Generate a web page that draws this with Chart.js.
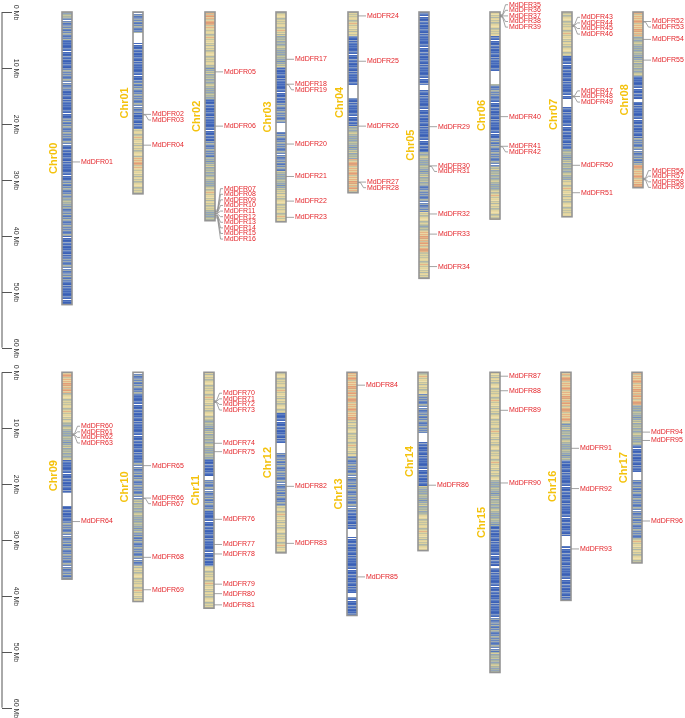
<!DOCTYPE html>
<html>
<head>
<meta charset="utf-8">
<script src="https://cdn.jsdelivr.net/npm/chart.js@4.4.1/dist/chart.umd.min.js"></script>
<style>
    html, body { margin: 0; padding: 0; background: #fff; }
    #wrap { position: relative; width: 685px; height: 718px; }
    canvas { position: absolute; left: 0; display: block; }
    #topChart { top: 0; }
    #bottomChart { top: 360px; }
</style>
</head>
<body>
<div id="wrap">
    <canvas id="topChart" width="685" height="360"></canvas>
    <canvas id="bottomChart" width="685" height="358"></canvas>
</div>
<script>
// Axis ticks (Mb)
const yTicks = [0, 10, 20, 30, 40, 50, 60];

// Chromosomes, lengths in Mb
const topChrs = ['Chr00', 'Chr01', 'Chr02', 'Chr03', 'Chr04', 'Chr05', 'Chr06', 'Chr07', 'Chr08'];
const topLengths = [52.3, 32.5, 37.3, 37.5, 32.3, 47.6, 37.0, 36.6, 31.4];
const bottomChrs = ['Chr09', 'Chr10', 'Chr11', 'Chr12', 'Chr13', 'Chr14', 'Chr15', 'Chr16', 'Chr17'];
const bottomLengths = [37.0, 41.0, 42.2, 32.3, 43.5, 31.9, 53.7, 40.8, 34.1];

// Gene density bands: [end Mb, level] (0 gap, 1 dense blue ... 5 orange)
const topBands = [
    [[1.2, 3], [5, 2], [10, 1], [14, 2], [19, 1], [24, 2], [30, 1], [33, 2], [35, 3], [40, 2], [44, 1], [48, 2], [52.3, 1]],
    [[3.7, 2], [5.5, 0], [12.5, 1], [18, 2], [21, 1], [26, 4], [28, 5], [32.5, 4]],
    [[3, 5], [9.8, 4], [15.7, 3], [23, 1], [26, 2], [31.4, 3], [35, 4], [37.3, 3]],
    [[4, 4], [10, 3], [16, 1], [20, 2], [21.5, 0], [28.5, 2], [32, 3], [37.5, 4]],
    [[4.3, 4], [13.2, 1], [15.3, 0], [20.3, 1], [26.3, 3], [32.3, 5]],
    [[13, 1], [14, 0], [25, 1], [31, 3], [35.7, 2], [38, 4], [39, 3], [43, 5], [47.6, 4]],
    [[4.3, 4], [10.8, 1], [12.9, 0], [15.6, 2], [22.7, 1], [27.5, 2], [32, 3], [37, 4]],
    [[7.8, 4], [15.5, 1], [17, 0], [24.5, 1], [30, 3], [36.6, 4]],
    [[4.3, 5], [11.4, 3], [15.6, 1], [16, 0], [22.5, 1], [27.3, 2], [31.4, 5]]
];
const bottomBands = [
    [[3.75, 5], [9.1, 4], [15.6, 3], [21.6, 1], [24, 0], [26.4, 1], [37, 2]],
    [[4, 2], [15.7, 1], [22.8, 2], [28.8, 3], [34.7, 2], [41, 4]],
    [[8.5, 4], [15.7, 3], [18.6, 1], [19.3, 0], [24.9, 2], [34.7, 1], [42.2, 4]],
    [[7.3, 4], [12.7, 1], [14.5, 0], [24, 2], [32.3, 4]],
    [[8.5, 5], [15, 4], [25, 2], [28, 1], [29.4, 0], [39.5, 1], [40.2, 0], [43.5, 1]],
    [[3.8, 4], [10.9, 2], [12.4, 0], [20.4, 1], [25.2, 3], [31.9, 4]],
    [[19.2, 4], [27.5, 3], [34.6, 1], [35, 0], [44, 1], [50, 2], [53.7, 3]],
    [[9.1, 5], [15.6, 3], [29.3, 1], [31, 0], [40.8, 1]],
    [[5.9, 5], [13, 3], [17.8, 1], [19, 0], [29.8, 2], [34.1, 4]]
];

// MdDFR genes (numbered in order), chromosome and position in Mb
const topGeneChr = ['Chr00', 'Chr01', 'Chr01', 'Chr01', 'Chr02', 'Chr02',
    'Chr02', 'Chr02', 'Chr02', 'Chr02', 'Chr02', 'Chr02', 'Chr02', 'Chr02', 'Chr02', 'Chr02',
    'Chr03', 'Chr03', 'Chr03', 'Chr03', 'Chr03', 'Chr03', 'Chr03',
    'Chr04', 'Chr04', 'Chr04', 'Chr04', 'Chr04',
    'Chr05', 'Chr05', 'Chr05', 'Chr05', 'Chr05', 'Chr05',
    'Chr06', 'Chr06', 'Chr06', 'Chr06', 'Chr06', 'Chr06', 'Chr06', 'Chr06',
    'Chr07', 'Chr07', 'Chr07', 'Chr07', 'Chr07', 'Chr07', 'Chr07', 'Chr07', 'Chr07',
    'Chr08', 'Chr08', 'Chr08', 'Chr08', 'Chr08', 'Chr08', 'Chr08', 'Chr08'];
const topGenePos = [26.8, 18.3, 18.4, 23.8, 10.7, 20.4,
    35.4, 35.6, 35.7, 35.9, 36.0, 36.1, 36.3, 36.4, 36.6, 36.8,
    8.45, 12.9, 13.0, 23.6, 29.4, 33.8, 36.7,
    0.7, 8.8, 20.4, 30.4, 30.5,
    20.5, 27.5, 27.6, 36.1, 39.7, 45.5,
    0.5, 0.6, 0.7, 0.8, 0.9, 18.7, 24.0, 24.1,
    2.3, 2.4, 2.5, 2.6, 15.0, 15.1, 15.2, 27.4, 32.3,
    1.7, 1.8, 4.9, 8.6, 29.7, 29.8, 29.9, 30.0];
const bottomGeneChr = ['Chr09', 'Chr09', 'Chr09', 'Chr09', 'Chr09',
    'Chr10', 'Chr10', 'Chr10', 'Chr10', 'Chr10',
    'Chr11', 'Chr11', 'Chr11', 'Chr11', 'Chr11', 'Chr11', 'Chr11', 'Chr11', 'Chr11', 'Chr11', 'Chr11', 'Chr11',
    'Chr12', 'Chr12', 'Chr13', 'Chr13', 'Chr14',
    'Chr15', 'Chr15', 'Chr15', 'Chr15',
    'Chr16', 'Chr16', 'Chr16',
    'Chr17', 'Chr17', 'Chr17'];
const bottomGenePos = [11.0, 11.1, 11.2, 11.3, 26.7,
    16.7, 22.5, 22.6, 33.1, 38.9,
    5.1, 5.2, 5.3, 5.4, 12.7, 14.2, 26.3, 30.8, 32.5, 37.9, 39.6, 41.6,
    20.4, 30.6, 2.3, 36.6, 20.2,
    0.7, 3.3, 6.8, 19.8,
    13.6, 20.8, 31.6,
    10.7, 12.2, 26.6];

// stripe colours for each density level
const palettes = [
    ['#ffffff', '#ffffff', '#ffffff', '#ffffff', '#ffffff', '#ffffff'],
    ['#4569bb', '#5d7fc3', '#3a60b5', '#8199c6', '#ffffff', '#9aabc9'],
    ['#6a88c0', '#9eabb3', '#5275bd', '#b3b9a6', '#ffffff', '#869bc2'],
    ['#a9b4a3', '#91a4bb', '#c8c69f', '#b5bbab', '#7590bf', '#dacf9b'],
    ['#e0d49f', '#c2c3a3', '#e9d9a2', '#aeb7aa', '#e6b387', '#eee0ad'],
    ['#e7b385', '#e3d2a0', '#e29c77', '#c8c3a1', '#ecd7a4', '#daa37d']
];
const stripeSeq = [0, 1, 0, 2, 0, 3, 1, 0, 4, 0, 1, 2, 0, 5, 1, 0, 3, 0, 2, 1, 0, 3, 1, 0, 2, 5, 0, 3, 1, 0, 1];

function levelAt(bands, mb) {
    for (const b of bands) {
        if (mb <= b[0]) return b[1];
    }
    return bands[bands.length - 1][1];
}

function layoutLabels(items, sp) {
    items.sort((a, b) => a.gy - b.gy);
    const groups = [];
    items.forEach(it => {
        const g = groups[groups.length - 1];
        if (g && it.gy - g[g.length - 1].gy < sp) g.push(it);
        else groups.push([it]);
    });
    groups.forEach(g => {
        let start = g[0].gy;
        if (g.length > 2) {
            const mean = g.reduce((s, it) => s + it.gy, 0) / g.length;
            start = mean - (g.length - 1) * sp / 2;
        }
        g.forEach((it, k) => { it.ly = start + k * sp; });
    });
    return items;
}

function chromPlugin(names, bands, geneChr, genePos, firstGene) {
    return {
        id: 'chromosomes',
        afterDatasetsDraw(chart) {
            const ctx = chart.ctx;
            const ys = chart.scales.y;
            const meta = chart.getDatasetMeta(0);

            // left axis
            ctx.save();
            ctx.strokeStyle = '#555';
            ctx.fillStyle = '#333';
            ctx.lineWidth = 1;
            ctx.beginPath();
            ctx.moveTo(2, ys.getPixelForValue(0));
            ctx.lineTo(2, ys.getPixelForValue(60));
            ctx.stroke();
            ctx.font = '7px "Liberation Sans", Arial, sans-serif';
            ctx.textAlign = 'center';
            ctx.textBaseline = 'middle';
            yTicks.forEach(v => {
                const py = Math.round(ys.getPixelForValue(v)) + 0.5;
                ctx.beginPath();
                ctx.moveTo(2, py);
                ctx.lineTo(12, py);
                ctx.stroke();
                ctx.save();
                ctx.translate(16, py);
                ctx.rotate(Math.PI / 2);
                ctx.fillText(v + ' Mb', 0, 0);
                ctx.restore();
            });
            ctx.restore();

            meta.data.forEach((el, i) => {
                const p = el.getProps(['x', 'y', 'base', 'width'], true);
                const left = Math.round(p.x - p.width / 2);
                const right = left + Math.round(p.width);
                const top = Math.min(p.y, p.base);
                const bot = Math.max(p.y, p.base);

                // density stripes
                ctx.save();
                for (let r = Math.floor(top); r < Math.ceil(bot); r++) {
                    const mb = ys.getValueForPixel(r + 0.5);
                    const lvl = levelAt(bands[i], mb);
                    const idx = stripeSeq[(r - Math.floor(top) + i * 7) % stripeSeq.length];
                    ctx.fillStyle = palettes[lvl][idx];
                    ctx.fillRect(left, r, right - left, 1);
                }
                ctx.strokeStyle = '#949494';
                ctx.lineWidth = 1.6;
                ctx.strokeRect(left, top, right - left, bot - top);
                ctx.restore();

                // chromosome name
                ctx.save();
                ctx.fillStyle = '#f4c20d';
                ctx.font = 'bold 11px "Liberation Sans", Arial, sans-serif';
                ctx.textAlign = 'center';
                ctx.textBaseline = 'middle';
                ctx.translate(left - 8, (top + bot) / 2);
                ctx.rotate(-Math.PI / 2);
                ctx.fillText(names[i], 0, 0);
                ctx.restore();

                // genes
                const items = [];
                geneChr.forEach((c, g) => {
                    if (c === names[i]) {
                        items.push({
                            name: 'MdDFR' + String(firstGene + g).padStart(2, '0'),
                            gy: ys.getPixelForValue(genePos[g])
                        });
                    }
                });
                layoutLabels(items, 5.6);
                ctx.save();
                ctx.strokeStyle = '#8c8c8c';
                ctx.lineWidth = 0.8;
                ctx.fillStyle = '#e4262b';
                ctx.font = '7px "Liberation Sans", Arial, sans-serif';
                ctx.textAlign = 'left';
                ctx.textBaseline = 'middle';
                items.forEach(it => {
                    ctx.beginPath();
                    ctx.moveTo(right, it.gy);
                    if (Math.abs(it.ly - it.gy) < 0.5) {
                        ctx.lineTo(right + 8, it.gy);
                    } else {
                        ctx.lineTo(right + 2.5, it.gy);
                        ctx.lineTo(right + 5.5, it.ly);
                        ctx.lineTo(right + 8, it.ly);
                    }
                    ctx.stroke();
                    ctx.fillText(it.name, right + 9, it.ly);
                });
                ctx.restore();
            });
        }
    };
}

function makeChart(id, names, lengths, bands, geneChr, genePos, firstGene, pad) {
    return new Chart(document.getElementById(id), {
        type: 'bar',
        data: {
            labels: names,
            datasets: [{
                data: lengths.map(l => [0, l]),
                backgroundColor: 'rgba(0,0,0,0)',
                borderWidth: 0,
                barThickness: 10
            }]
        },
        options: {
            responsive: false,
            animation: false,
            layout: { padding: pad },
            plugins: { legend: { display: false }, tooltip: { enabled: false } },
            scales: {
                x: { display: false },
                y: { display: false, reverse: true, min: 0, max: 60 }
            }
        },
        plugins: [chromPlugin(names, bands, geneChr, genePos, firstGene)]
    });
}

makeChart('topChart', topChrs, topLengths, topBands, topGeneChr, topGenePos, 1,
    { left: 31, right: 11, top: 12, bottom: 12.3 });
makeChart('bottomChart', bottomChrs, bottomLengths, bottomBands, bottomGeneChr, bottomGenePos, 60,
    { left: 31, right: 12, top: 12.3, bottom: 10.3 });
</script>
</body>
</html>
